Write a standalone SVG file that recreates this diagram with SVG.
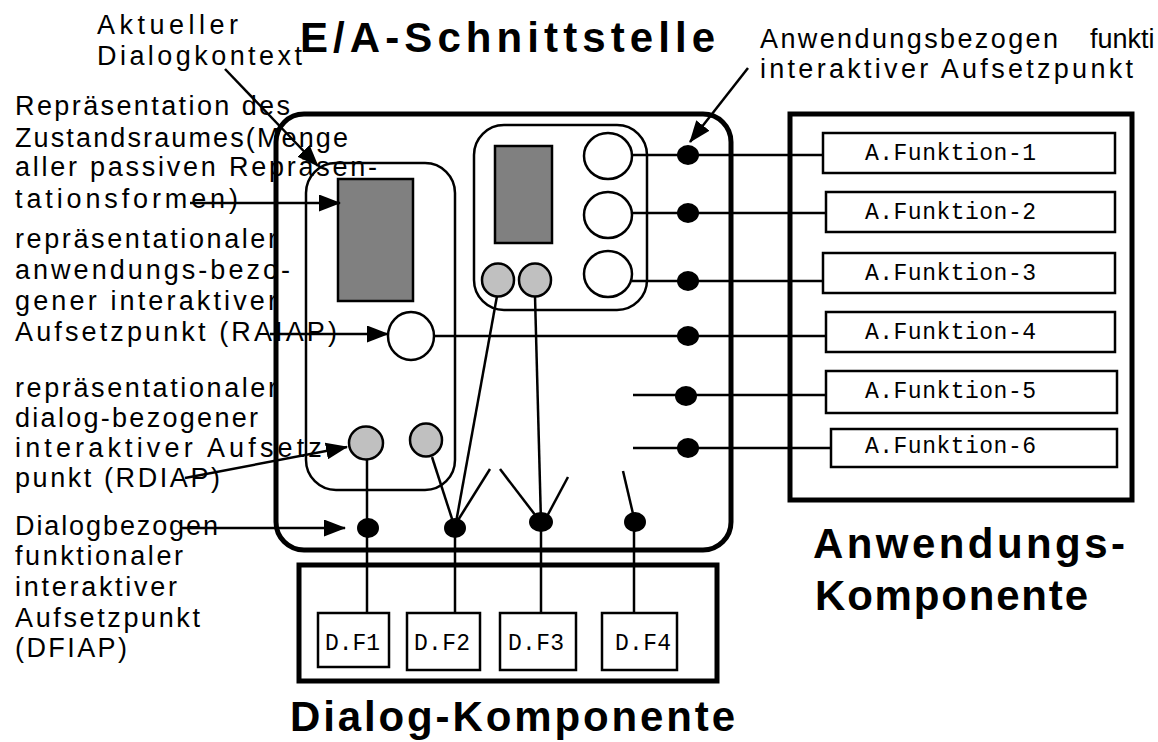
<svg xmlns="http://www.w3.org/2000/svg" width="1158" height="742" viewBox="0 0 1158 742">
<style>
.thick{fill:none;stroke:#000;stroke-width:5}
.thin{fill:none;stroke:#000;stroke-width:2.5}
.gray{fill:#808080;stroke:#000;stroke-width:2.5}
.lgray{fill:#c0c0c0;stroke:#000;stroke-width:2.5}
.white{fill:#fff;stroke:#000;stroke-width:2.5}
.box{fill:#fff;stroke:#000;stroke-width:2.5}
.dot{fill:#000}
.ln{fill:none;stroke:#000;stroke-width:2.5}
.arr{fill:none;stroke:#000;stroke-width:2.5;marker-end:url(#ah)}
.lbl{font-family:"Liberation Sans",Arial,sans-serif;font-size:27px;fill:#000}
.ttl{font-family:"Liberation Sans",Arial,sans-serif;font-size:42px;font-weight:bold;fill:#000}
.mono{font-family:"Liberation Mono","Courier New",monospace;font-size:23px;fill:#000}
</style>
<defs>
<marker id="ah" markerUnits="userSpaceOnUse" viewBox="0 0 22 17" refX="21" refY="8.5" markerWidth="22" markerHeight="17" orient="auto">
<path d="M0,0 L22,8.5 L0,17 z" fill="#000"/>
</marker>
</defs>
<rect width="1158" height="742" fill="#fff"/>

<g id="labels">
<text class="ttl" x="300" y="52" textLength="415" lengthAdjust="spacing">E/A-Schnittstelle</text>
<text class="ttl" x="813" y="558" textLength="312" lengthAdjust="spacing">Anwendungs-</text>
<text class="ttl" x="815" y="610" textLength="273" lengthAdjust="spacing">Komponente</text>
<text class="ttl" x="290" y="731" textLength="445" lengthAdjust="spacing">Dialog-Komponente</text>

<text class="lbl" x="97" y="34" textLength="141" lengthAdjust="spacing">Aktueller</text>
<text class="lbl" x="97" y="65" textLength="205" lengthAdjust="spacing">Dialogkontext</text>

<text class="lbl" x="15" y="115" textLength="275" lengthAdjust="spacing">Repräsentation des</text>
<text class="lbl" x="15" y="147" textLength="333" lengthAdjust="spacing">Zustandsraumes(Menge</text>
<text class="lbl" x="15" y="176" textLength="362" lengthAdjust="spacing">aller passiven Repräsen-</text>
<text class="lbl" x="15" y="208" textLength="223" lengthAdjust="spacing">tationsformen)</text>

<text class="lbl" x="15" y="248" textLength="262" lengthAdjust="spacing">repräsentationaler</text>
<text class="lbl" x="15" y="279" textLength="275" lengthAdjust="spacing">anwendungs-bezo-</text>
<text class="lbl" x="15" y="310" textLength="262" lengthAdjust="spacing">gener interaktiver</text>
<text class="lbl" x="15" y="341" textLength="322" lengthAdjust="spacing">Aufsetzpunkt (RAIAP)</text>

<text class="lbl" x="15" y="397" textLength="262" lengthAdjust="spacing">repräsentationaler</text>
<text class="lbl" x="15" y="427" textLength="243" lengthAdjust="spacing">dialog-bezogener</text>
<text class="lbl" x="15" y="457" textLength="320" lengthAdjust="spacing">interaktiver Aufsetz-</text>
<text class="lbl" x="15" y="487" textLength="205" lengthAdjust="spacing">punkt (RDIAP)</text>

<text class="lbl" x="15" y="535" textLength="203" lengthAdjust="spacing">Dialogbezogen</text>
<text class="lbl" x="15" y="565" textLength="168" lengthAdjust="spacing">funktionaler</text>
<text class="lbl" x="15" y="596" textLength="162" lengthAdjust="spacing">interaktiver</text>
<text class="lbl" x="15" y="627" textLength="185" lengthAdjust="spacing">Aufsetzpunkt</text>
<text class="lbl" x="15" y="657" textLength="112" lengthAdjust="spacing">(DFIAP)</text>

<text class="lbl" x="760" y="48"><tspan x="760" textLength="298" lengthAdjust="spacing">Anwendungsbezogen</tspan><tspan x="1090">funkti</tspan></text>
<text class="lbl" x="760" y="78" textLength="373" lengthAdjust="spacing">interaktiver Aufsetzpunkt</text>
</g>

<g id="ea-schnittstelle">
<rect class="thick" x="276" y="114" width="455" height="436" rx="28"/>
</g>
<g id="anwendungs-komponente">
<rect class="thick" x="790" y="114" width="342" height="386"/>
</g>
<g id="dialog-komponente">
<rect class="thick" x="299" y="565" width="418" height="116"/>
</g>
<g id="zustandsraum-box">
<rect class="thin" x="306" y="163" width="149" height="327" rx="30"/>
<rect class="gray" x="338" y="179" width="75" height="122"/>
</g>
<g id="dialogkontext-box">
<rect class="thin" x="474" y="125" width="173" height="185" rx="30"/>
<rect class="gray" x="495" y="146" width="57" height="97"/>
</g>

<g id="connectors">
<line class="ln" x1="632" y1="155" x2="823" y2="155"/>
<line class="ln" x1="632" y1="213" x2="826" y2="213"/>
<line class="ln" x1="632" y1="281" x2="823" y2="281"/>
<line class="ln" x1="434" y1="336" x2="826" y2="336"/>
<line class="ln" x1="633" y1="395" x2="826" y2="395"/>
<line class="ln" x1="633" y1="448" x2="831" y2="448"/>

<line class="ln" x1="367" y1="459" x2="367" y2="613"/>
<line class="ln" x1="455" y1="528" x2="455" y2="613"/>
<line class="ln" x1="541" y1="522" x2="541" y2="613"/>
<line class="ln" x1="634" y1="522" x2="634" y2="613"/>

<line class="ln" x1="432" y1="457" x2="455" y2="528"/>
<line class="ln" x1="497" y1="296" x2="455" y2="528"/>
<line class="ln" x1="490" y1="469" x2="455" y2="525"/>
<line class="ln" x1="535" y1="296" x2="541" y2="522"/>
<line class="ln" x1="500" y1="469" x2="539" y2="520"/>
<line class="ln" x1="568" y1="477" x2="545" y2="520"/>
<line class="ln" x1="623" y1="471" x2="634" y2="518"/>

<line class="arr" x1="225" y1="69" x2="318" y2="166"/>
<line class="arr" x1="190" y1="203" x2="340" y2="203"/>
<line class="arr" x1="270" y1="334" x2="388" y2="334"/>
<line class="arr" x1="185" y1="478" x2="347" y2="447"/>
<line class="arr" x1="180" y1="528" x2="345" y2="528"/>
<line class="arr" x1="748" y1="68" x2="690" y2="142"/>
</g>

<g id="circles">
<ellipse class="white" cx="608" cy="156" rx="24" ry="23"/>
<ellipse class="white" cx="608" cy="215" rx="24" ry="23"/>
<ellipse class="white" cx="608" cy="274" rx="24" ry="23"/>
<ellipse class="white" cx="411" cy="336" rx="23" ry="24"/>
<ellipse class="lgray" cx="498" cy="280" rx="16" ry="16.5"/>
<ellipse class="lgray" cx="535" cy="280" rx="16" ry="16.5"/>
<ellipse class="lgray" cx="366" cy="443" rx="17" ry="16.5"/>
<ellipse class="lgray" cx="426" cy="440" rx="16" ry="16.5"/>
</g>

<g id="dots">
<ellipse class="dot" cx="688" cy="155" rx="11" ry="10"/>
<ellipse class="dot" cx="688" cy="213" rx="11" ry="10"/>
<ellipse class="dot" cx="688" cy="281" rx="11" ry="10"/>
<ellipse class="dot" cx="688" cy="336" rx="11" ry="10"/>
<ellipse class="dot" cx="686" cy="396" rx="11" ry="10"/>
<ellipse class="dot" cx="688" cy="448" rx="11" ry="10"/>
<ellipse class="dot" cx="368" cy="528" rx="11" ry="10"/>
<ellipse class="dot" cx="455" cy="528" rx="11" ry="10"/>
<ellipse class="dot" cx="541" cy="522" rx="12" ry="10"/>
<ellipse class="dot" cx="635" cy="522" rx="11" ry="10"/>
</g>

<g id="a-funktion-1"><rect class="box" x="823" y="133" width="292" height="40"/><text class="mono" x="865" y="160" textLength="171" lengthAdjust="spacing">A.Funktion-1</text></g>
<g id="a-funktion-2"><rect class="box" x="826" y="192" width="289" height="40"/><text class="mono" x="865" y="219" textLength="171" lengthAdjust="spacing">A.Funktion-2</text></g>
<g id="a-funktion-3"><rect class="box" x="823" y="253" width="292" height="40"/><text class="mono" x="865" y="280" textLength="171" lengthAdjust="spacing">A.Funktion-3</text></g>
<g id="a-funktion-4"><rect class="box" x="826" y="312" width="289" height="40"/><text class="mono" x="865" y="339" textLength="171" lengthAdjust="spacing">A.Funktion-4</text></g>
<g id="a-funktion-5"><rect class="box" x="826" y="371" width="291" height="42"/><text class="mono" x="865" y="398" textLength="171" lengthAdjust="spacing">A.Funktion-5</text></g>
<g id="a-funktion-6"><rect class="box" x="831" y="429" width="286" height="38"/><text class="mono" x="865" y="453" textLength="171" lengthAdjust="spacing">A.Funktion-6</text></g>

<g id="d-f1"><rect class="box" x="318" y="613" width="71" height="54"/><text class="mono" x="325" y="650" textLength="55" lengthAdjust="spacing">D.F1</text></g>
<g id="d-f2"><rect class="box" x="407" y="613" width="73" height="57"/><text class="mono" x="414" y="650" textLength="56" lengthAdjust="spacing">D.F2</text></g>
<g id="d-f3"><rect class="box" x="500" y="613" width="76" height="57"/><text class="mono" x="508" y="650" textLength="56" lengthAdjust="spacing">D.F3</text></g>
<g id="d-f4"><rect class="box" x="602" y="613" width="75" height="57"/><text class="mono" x="615" y="650" textLength="56" lengthAdjust="spacing">D.F4</text></g>
</svg>
